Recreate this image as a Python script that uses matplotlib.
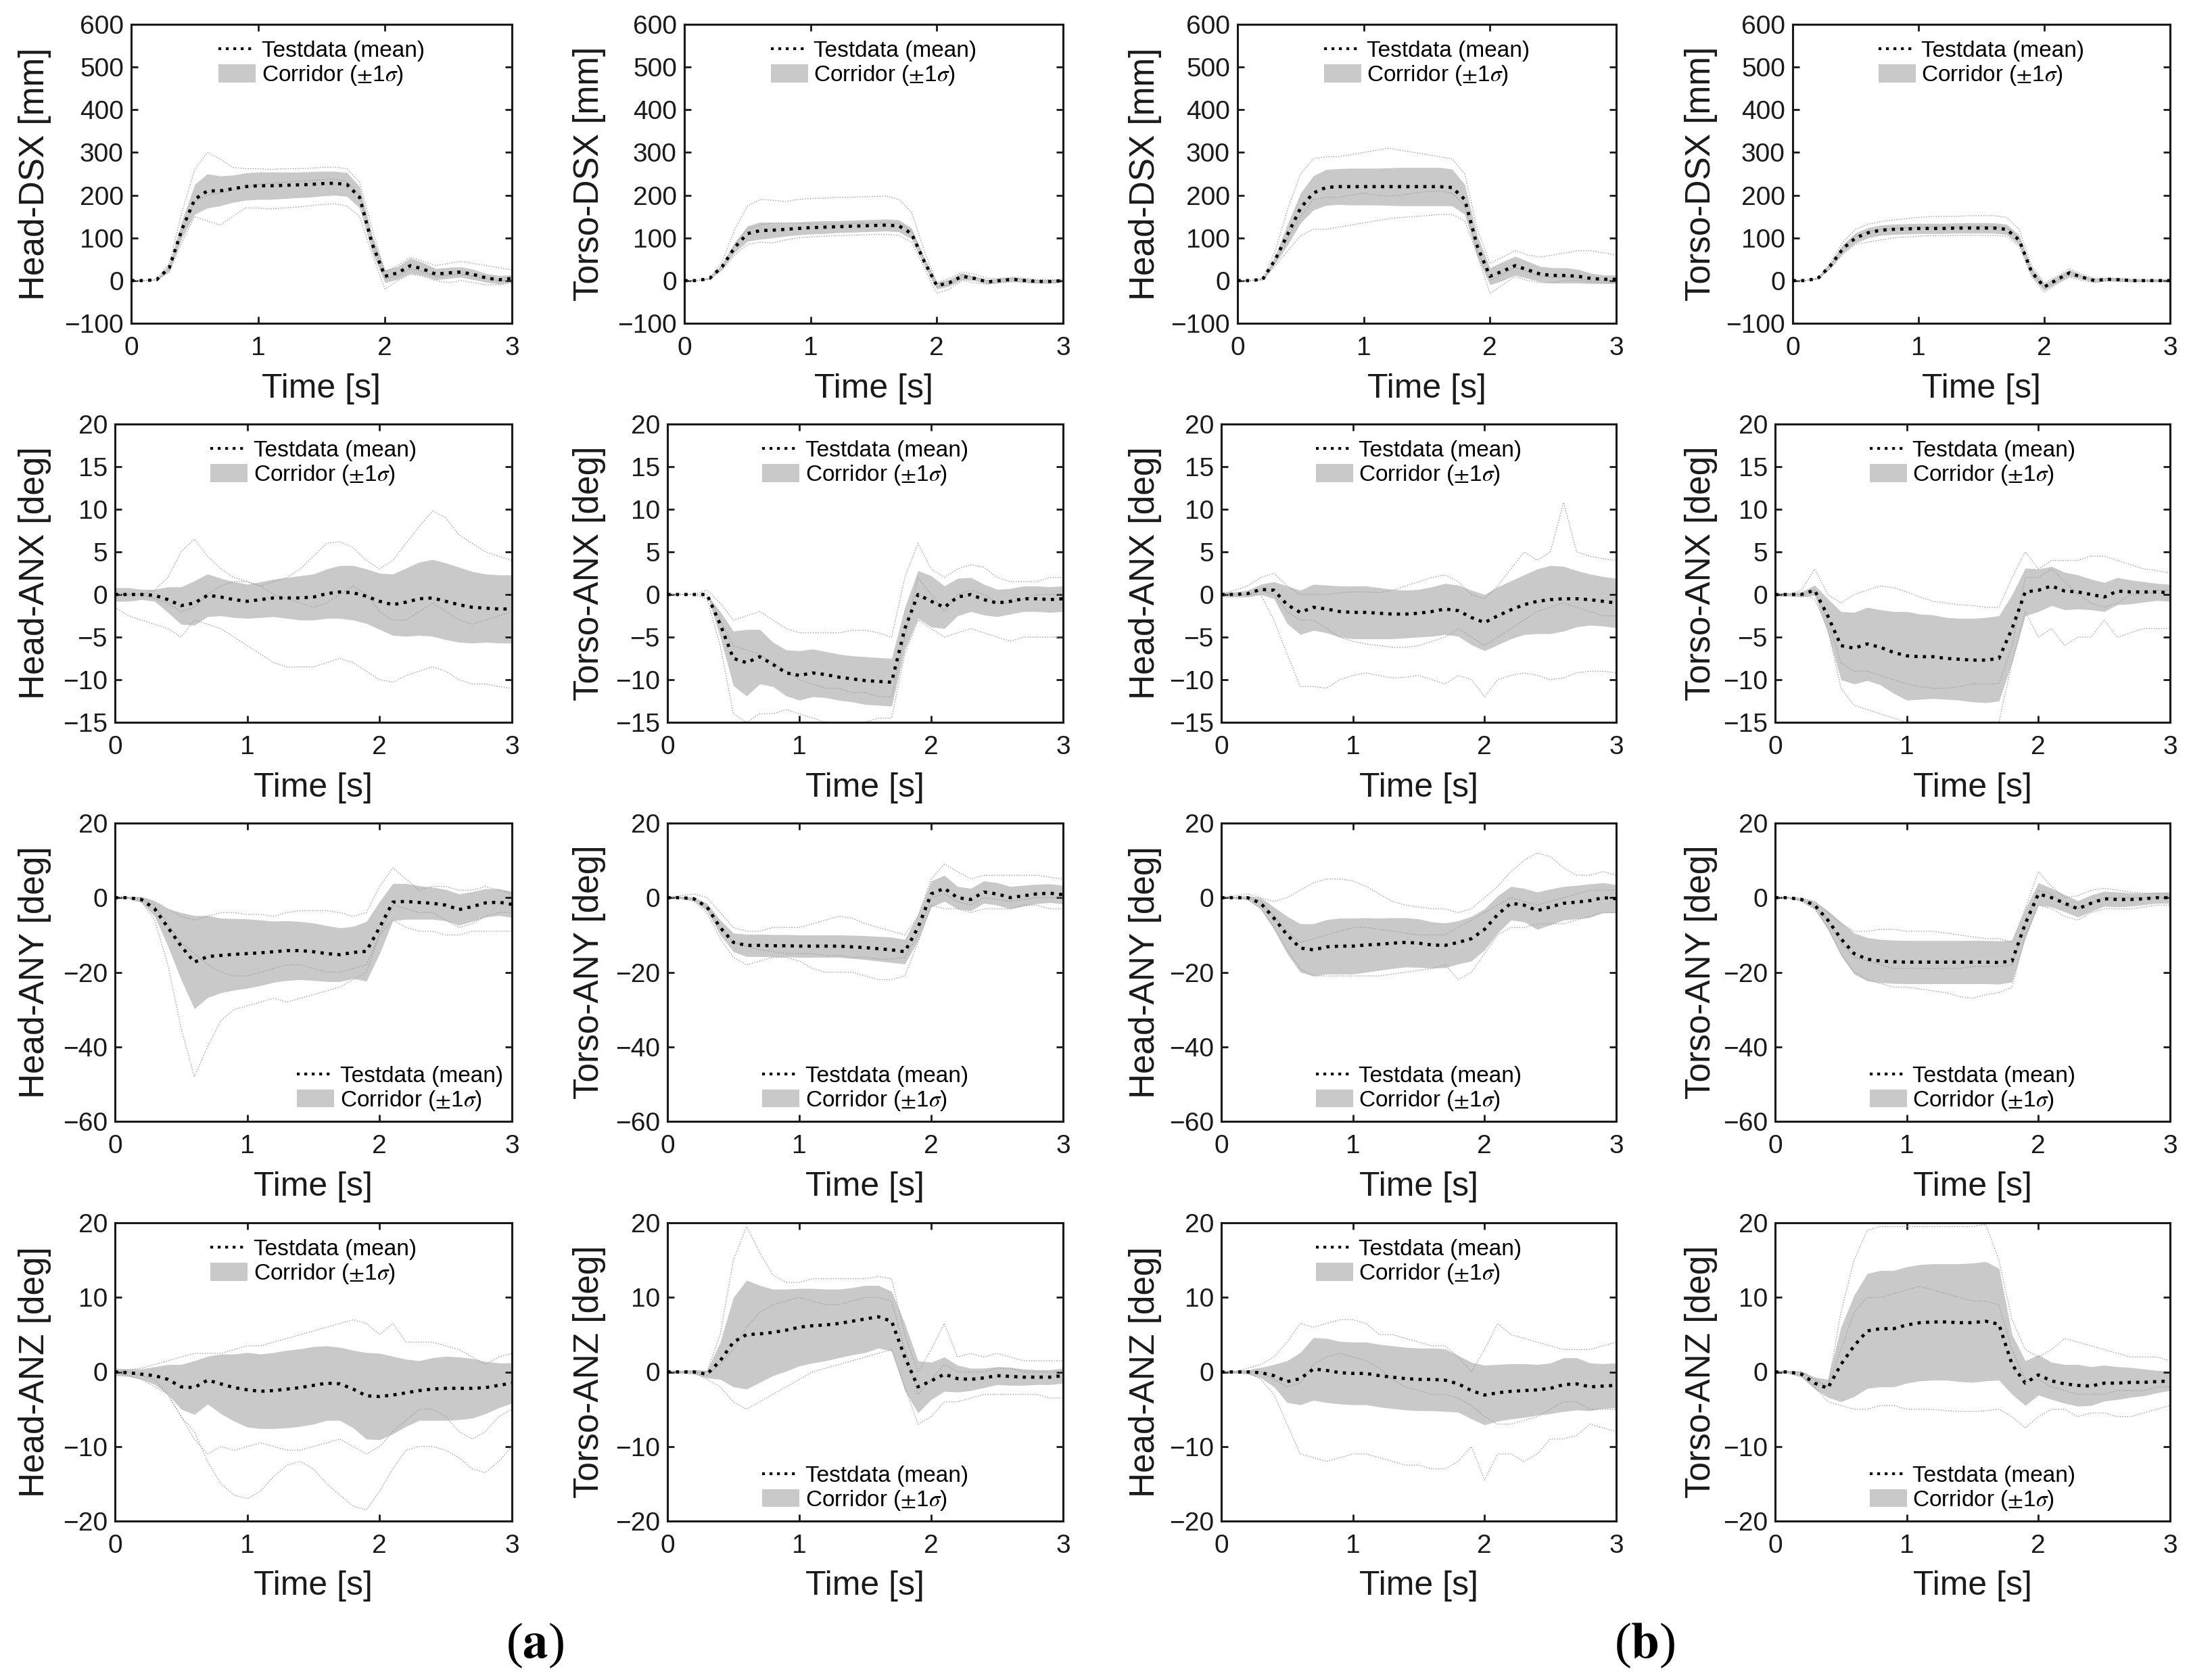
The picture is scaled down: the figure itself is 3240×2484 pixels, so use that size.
import matplotlib
matplotlib.use('Agg')
import matplotlib.pyplot as plt
from matplotlib.patches import Patch
from matplotlib.lines import Line2D

plt.rcParams['font.family'] = ['Liberation Sans', 'DejaVu Sans']
plt.rcParams['mathtext.fontset'] = 'stix'

# ---------------- data ----------------
time_s = [0.0, 0.1, 0.2, 0.3, 0.4, 0.5, 0.6, 0.7, 0.8, 0.9, 1.0, 1.1, 1.2, 1.3, 1.4, 1.5,
          1.6, 1.7, 1.8, 1.9, 2.0, 2.1, 2.2, 2.3, 2.4, 2.5, 2.6, 2.7, 2.8, 2.9, 3.0]

# Row 1: DSX [mm]
head_dsx_a_mean = [0,0,2,30,120,190,210,210,215,220,222,222,223,224,225,227,228,225,195,85,10,18,35,27,15,18,20,14,6,2,5]
head_dsx_a_sd = [0,0,1,8,20,35,40,35,32,32,32,32,31,30,30,29,28,28,25,20,15,15,18,15,13,13,12,12,10,10,8]
head_dsx_a_tests = [
    [0,0,3,40,160,260,300,285,265,262,262,260,262,262,263,265,266,262,230,120,20,35,55,45,35,40,45,40,35,30,25],
    [0,0,1,20,90,150,140,130,150,170,170,168,170,172,175,178,180,175,150,60,-20,0,15,10,0,-5,0,-5,-10,-10,-5],
    [0,0,2,28,115,185,200,205,212,218,225,228,230,232,234,236,238,232,200,95,5,10,28,20,10,12,15,10,5,0,0]]

torso_dsx_a_mean = [0,0,5,33,78,110,117,118,120,122,124,125,126,127,128,129,130,128,110,45,-12,-5,10,5,-3,0,3,0,-2,-2,0]
torso_dsx_a_sd = [0,0,2,6,12,18,20,18,16,15,15,15,14,14,14,14,14,14,13,10,8,8,8,5,5,5,5,4,4,4,4]
torso_dsx_a_tests = [
    [0,0,6,45,120,175,190,188,185,190,192,193,195,195,196,197,198,190,160,70,-5,5,20,15,5,5,8,5,3,2,2],
    [0,0,3,25,60,85,90,88,95,100,102,104,105,106,107,108,108,106,90,30,-30,-20,0,-5,-8,-5,-3,-5,-6,-6,-4],
    [0,0,5,35,85,120,130,135,135,135,133,132,132,133,134,135,136,134,115,50,-15,-10,15,8,0,3,5,2,0,-1,1]]

head_dsx_b_mean = [0,0,3,50,110,170,205,218,220,220,220,220,220,220,220,220,220,218,190,80,10,22,35,25,15,12,12,10,5,3,3]
head_dsx_b_sd = [0,0,2,10,25,35,40,42,42,43,43,43,44,45,45,45,45,43,35,25,20,22,22,20,18,18,18,16,12,10,10]
head_dsx_b_tests = [
    [0,0,5,70,170,250,285,290,290,295,300,305,310,305,300,295,290,285,250,120,40,55,70,60,55,60,65,70,70,65,60],
    [0,0,2,35,70,105,120,120,125,130,135,140,145,148,150,152,155,155,140,60,-30,-10,10,0,-5,-5,0,0,-3,-5,-5],
    [0,0,3,45,100,150,190,195,195,200,205,200,198,200,205,208,210,205,175,70,0,15,30,20,10,8,8,5,0,0,0]]

torso_dsx_b_mean = [0,0,5,35,75,100,112,118,120,121,122,122,122,123,123,123,123,120,95,20,-15,2,18,8,0,3,2,0,0,0,0]
torso_dsx_b_sd = [0,0,2,6,10,12,12,12,12,12,12,12,12,12,12,12,12,12,12,10,8,8,8,5,4,4,4,3,3,3,3]
torso_dsx_b_tests = [
    [0,0,6,42,90,120,132,138,142,145,148,150,150,150,152,152,152,148,120,35,-5,10,28,15,5,6,5,3,2,2,2],
    [0,0,4,28,62,85,90,95,100,102,104,105,105,106,106,106,106,104,80,10,-28,-8,8,0,-5,0,-2,-3,-2,-2,-2],
    [0,0,5,36,78,103,115,120,122,124,125,126,126,126,127,127,127,124,98,22,-18,0,20,10,2,4,3,1,0,0,0]]

# Row 2: ANX [deg]
head_anx_a_mean = [0,0,0,-0.1,-0.6,-1.3,-1.0,-0.1,-0.3,-0.6,-0.8,-0.6,-0.4,-0.4,-0.4,-0.3,0.1,0.3,0.2,-0.2,-0.8,-1.2,-0.9,-0.5,-0.4,-0.8,-1.2,-1.5,-1.6,-1.7,-1.7]
head_anx_a_sd = [0.8,0.8,0.6,0.7,1.5,2.2,2.6,2.5,2.2,2.1,2.0,2.1,2.2,2.4,2.6,2.7,2.9,3.1,3.2,3.2,3.3,3.6,4.0,4.3,4.5,4.5,4.4,4.2,4.0,4.0,4.0]
head_anx_a_tests = [
    [0,0,0,0.5,2,5,6.5,4.5,3,2,1.5,1,1.5,2,3,4.5,6,6.2,5.5,4,3,4,6,8,9.8,9,7,6,5,4.5,4],
    [-1.5,-2.5,-3,-3.5,-4,-5,-3,-3.5,-4,-5,-6,-7,-8,-8.5,-8.5,-8.5,-8,-7.5,-8,-9,-10,-10.3,-9.5,-9,-8.5,-9,-10,-10.5,-10.5,-10.8,-11],
    [0,0,0,-0.5,-1,-2,-1.5,0,1,1.5,1.5,1,0,-0.5,-1,-1.5,-1,0,1,0,-2,-3,-3,-2,-1,-2,-3,-3.5,-3,-2.5,-2]]

torso_anx_a_mean = [0,0,0,0,-3.5,-7.5,-8,-7.3,-8.2,-9.2,-9.5,-9.2,-9.4,-9.7,-9.9,-10.1,-10.2,-10.3,-4,0,-0.8,-1.5,-0.3,0,-0.6,-1,-0.8,-0.5,-0.5,-0.6,-0.5]
torso_anx_a_sd = [0,0,0,0,1.5,3.2,3.9,3.2,2.6,2.7,2.9,2.8,2.7,2.7,2.7,2.8,2.8,2.8,2.5,2.8,3,2.5,2.2,2.0,1.8,1.6,1.5,1.5,1.5,1.5,1.5]
torso_anx_a_tests = [
    [0,0,0,0.5,-1,-3,-2.5,-2,-3,-4,-4.5,-4.5,-4.5,-4.5,-4.2,-4.2,-4.5,-5,2,6,3,2,3,3.5,3.2,2,1.5,1.5,1.5,2,2],
    [0,0,0,-0.5,-6,-14,-15,-14,-14,-13.5,-14,-14.5,-15,-15,-15,-15,-14.5,-14.5,-7,-3,-4,-5,-4.5,-4,-4.5,-5,-5.5,-5,-5,-5,-5],
    [0,0,0,0,-3,-6,-6.5,-7,-8,-9,-10,-10.5,-11,-11,-11.5,-11.5,-12,-12,-5,2,0,-2,0,0.5,0,-1,-1,-0.5,0,0,0]]

head_anx_b_mean = [0,0,0.1,0.6,0.5,-1.2,-2.1,-1.5,-1.7,-2.0,-2.1,-2.1,-2.2,-2.3,-2.3,-2.2,-2.0,-1.7,-1.9,-2.7,-3.3,-2.5,-1.8,-1.2,-0.8,-0.6,-0.5,-0.5,-0.6,-0.8,-1.0]
head_anx_b_sd = [0.3,0.3,0.4,0.6,1,2.2,2.6,2.7,2.8,3,3.1,3.1,3,2.9,2.8,2.8,2.9,3,3,3.2,3.3,3.4,3.4,3.5,3.8,4,3.8,3.3,3,2.9,2.9]
head_anx_b_tests = [
    [0,0.5,1,2,2.5,1,0,0,0,0.2,0.3,0.3,0.2,0.5,1,1.5,2,2.3,1.5,0,-0.5,1,3,5,4,5,10.8,5,4.5,4.2,4],
    [0,0,0,0,-3,-7,-10.8,-10.8,-11,-10,-9.5,-9.2,-9.5,-9.8,-9.7,-9.5,-10,-10.5,-9.5,-10,-12,-10,-9.5,-9.2,-9.5,-10,-9.8,-9.2,-9,-9,-9.2],
    [0,0,0,0.5,0,-2,-3,-3,-4,-5,-5.5,-5.8,-6,-6.2,-6.2,-6,-5.5,-5,-4,-5,-6,-5,-4,-3,-2,-1.5,-1,-1.5,-2,-2.5,-2.5]]

torso_anx_b_mean = [0,0,0,0.5,-2.5,-6,-6.3,-5.8,-6.2,-6.8,-7.2,-7.3,-7.3,-7.5,-7.6,-7.7,-7.7,-7.5,-4,0.3,0.5,1,0.4,0.3,0,-0.3,0.4,0.3,0.3,0.3,0.2]
torso_anx_b_sd = [0.2,0.2,0.3,0.6,2,4,4.2,4.3,4.4,4.8,5.2,5.0,4.9,4.8,4.8,4.9,5.0,5.0,4,2.8,2.5,2.3,2.2,2,1.8,1.7,1.6,1.4,1.2,1.0,1.0]
torso_anx_b_tests = [
    [0,0,0.5,3,0,-1,0,0.5,1,0.8,0.3,-0.3,-0.8,-1,-1.2,-1.3,-1.5,-1.5,2,5,3,4,4,4,4.5,4.5,4,3.5,3,2.8,2.5],
    [0,0,0,-0.5,-4,-11,-13,-13.5,-14,-14.5,-15,-15,-15,-15,-15,-15,-15,-15,-8,-2,-5,-4,-6,-5,-5,-3,-5,-4.5,-4,-4,-4],
    [0,0,0,0.5,-3,-8,-9,-9,-9.5,-10,-10.5,-10.8,-11,-11,-10.8,-10.5,-10.5,-10.5,-6,2,2,3,1.5,0,-1,-1.5,-1,0,0,0.5,0.5]]

# Row 3: ANY [deg]
head_any_a_mean = [0,0,-0.5,-3,-8,-13,-17.3,-15.8,-15.5,-15.2,-15,-14.8,-14.5,-14.2,-14.2,-14.5,-15,-15.3,-14.7,-14.4,-8,-1.2,-1,-1.3,-1.5,-2,-3.2,-2.4,-1.4,-1.2,-1.8]
head_any_a_sd = [0.3,0.3,0.8,2,5,9,12.5,11,10,9.6,9.3,8.8,8.2,8,7.8,7.7,7.5,7.2,7,8,7,5,4.8,4.5,4.3,4.2,4.2,4,3.8,3.6,3.5]
head_any_a_tests = [
    [0,0,-1,-6,-18,-35,-48,-40,-33,-30,-29,-28,-27,-28,-27,-26,-25,-24,-22,-20,-10,-6,-8,-9,-9,-10,-10,-9,-9,-9,-9],
    [0,0,0,-1,-3,-5,-6,-5,-4,-4,-4.5,-4.5,-5,-4,-3.5,-3.5,-3.5,-4,-5,-4,3,8,5,2,3,3,2,2,3,2,1],
    [0,0,-0.5,-2,-7,-12,-15,-18,-20,-21,-21,-20,-19,-18,-18,-19,-20,-20,-19,-18,-10,-2,-3,-4,-4,-6,-8,-7,-5,-4,-4]]

torso_any_a_mean = [0,0,-0.3,-2.5,-8,-12,-12.8,-12.8,-12.9,-12.9,-13,-13,-13,-13,-13.2,-13.4,-13.7,-14,-14.5,-8,1,2.5,0,-0.5,1.5,1,0,0.5,1,1.2,0.8]
torso_any_a_sd = [0.3,0.3,0.5,1,2,2.5,3,3,3,3,3,3,3,3,3.1,3.2,3.3,3.4,3.3,3.5,3.5,3.5,3,3,3,3,3,2.8,2.6,2.5,2.5]
torso_any_a_tests = [
    [0,0.5,1,0,-4,-8,-9,-9,-8,-8,-8,-7,-6,-5,-5.5,-7,-8,-9,-10,-5,5,9,7,5,6,6,6,6,6,5.5,5],
    [0,0,-1,-4,-11,-16,-18,-17,-16,-16,-17,-19,-20,-20,-20,-21,-22,-22,-21,-12,-2,-3,-3,-4,-3,-3,-3,-2,-2,-3,-3],
    [0,0,-0.3,-2.5,-8,-12,-13,-14,-14.5,-15,-15,-15,-15.5,-15.5,-16,-16,-16.5,-16.5,-16,-10,0,1,-1,-2,0,-0.5,-1,-0.5,0,0,0]]

head_any_b_mean = [0,0,0,-1.5,-5.5,-10,-13.5,-14,-13.2,-13,-13,-12.7,-12.5,-12.2,-12,-12.2,-12.7,-12.8,-12,-11,-8.5,-4.5,-1.5,-2,-3.5,-2.5,-1.5,-1.2,-0.8,0,-0.3]
head_any_b_sd = [0.3,0.3,0.5,1.5,3,5,6.5,7,7.3,7.5,7.5,7.3,7,6.8,6.6,6.5,6.2,6,5.8,6,5.5,5,4.5,4.5,5,4.8,4.5,4.5,4.5,4,3.8]
head_any_b_tests = [
    [0,0.5,1,0,-1,0,2,4,5,5,4.5,3,1,-1,-2,-2.5,-3,-3,-4,-3,0,3,7,10,12,11,8,6,6,7,6],
    [0,0,-0.5,-3,-8,-14,-19,-21,-21,-21,-21,-21,-21,-20.5,-20,-19.5,-19,-18,-22,-20,-15,-10,-8,-8,-7,-7,-7,-6,-5,-4,-4],
    [0,0,0,-1,-5,-9,-12,-11,-10,-9,-8,-8,-8.5,-9,-9.5,-10,-10,-10,-8,-6,-4,-2,0,-1,-2,-1,0,1,2,2,2]]

torso_any_b_mean = [0,0,-0.5,-2,-6,-11,-15,-16.5,-17,-17.2,-17.3,-17.3,-17.3,-17.3,-17.3,-17.3,-17.3,-17.4,-17,-7,1,0,-1.5,-3,-1.5,-0.3,-0.5,-0.5,-0.3,0,0]
torso_any_b_sd = [0.2,0.2,0.4,1,2.5,4.5,5.5,5.8,5.8,5.8,5.8,5.8,5.8,5.8,5.8,5.8,5.8,5.8,5.6,4,3,2.5,2.3,2.2,2.2,2,2,1.8,1.6,1.5,1.5]
torso_any_b_tests = [
    [0,0,0,-1,-4,-7,-9,-9,-8.5,-8.5,-9,-9,-9,-9.5,-10,-10.5,-11,-11,-12,-3,7,3,0,0.5,2,2.5,2,1.5,1.2,1,1],
    [0,0,-1,-3,-8,-15,-20,-22,-23,-24,-24,-24.5,-25,-25.5,-26.5,-27,-26,-25.5,-24,-10,-2,-3,-5,-6,-4,-3,-3,-3,-2.5,-2,-2],
    [0,0,-0.5,-2,-6,-12,-16,-17,-18,-19,-19,-19,-19,-19,-19,-18.5,-18.5,-18.5,-18,-7,2,1,-2,-3,-1.5,0,0,0,0,0,0]]

# Row 4: ANZ [deg]
head_anz_a_mean = [0,-0.1,-0.3,-0.5,-1,-2,-2.1,-1.1,-1.6,-2.1,-2.4,-2.6,-2.5,-2.3,-2.1,-1.8,-1.5,-1.6,-2.3,-3.2,-3.3,-3.1,-2.8,-2.5,-2.3,-2.2,-2.2,-2.2,-2.1,-1.8,-1.5]
head_anz_a_sd = [0.5,0.5,0.7,1.2,2,3,3.6,3.2,4,4.5,5,5,5.1,5.2,5.2,5.2,5,4.9,5.2,5.8,5.8,5.2,4.5,4,4.2,4.3,4.2,4,3.5,3,2.7]
head_anz_a_tests = [
    [0,-0.5,-1,-2,-3,-6,-8,-12,-15,-16.5,-17,-16,-14,-12.5,-12,-13,-15,-16.5,-18,-18.5,-16,-13,-10.5,-10,-10,-10.5,-11.5,-13,-13.5,-12,-10],
    [0,0.3,0.5,1,1.5,2,2.5,2.5,2.5,3,3.5,3.5,4,4.5,5,5.5,6,6.5,7,6.5,5,6.5,4,4,4,3.5,3,2,1,2,2.5],
    [0,0,-0.5,-1,-3,-6,-9,-11,-10,-10.5,-10,-9.5,-10,-10.5,-10.5,-10,-9.5,-9,-10,-11,-10,-8,-6.5,-5,-5,-6,-8,-9,-8,-6,-5]]

torso_anz_a_mean = [0,0,0,-0.3,1.5,4,5,5.1,5.3,5.6,6,6.2,6.3,6.5,6.8,7.1,7.4,6.8,2,-2,-1.2,-0.3,-0.9,-1,-0.8,-0.5,-0.6,-0.7,-0.7,-0.7,-0.5]
torso_anz_a_sd = [0.2,0.2,0.3,0.5,2.5,6,7.3,6.5,5.8,5.5,5.2,5,4.8,4.6,4.5,4.5,4.2,4,4.5,3.5,2.5,2.3,1.8,1.5,1.3,1.2,1.2,1.1,1,1,1]
torso_anz_a_tests = [
    [0,0,0,0,5,15,19.5,16,13,12,12,12.5,12.5,12.5,12.5,12.5,12.8,12.5,5,0,3,6.5,2,2.5,2,2.5,2,1.5,1.5,1.5,1.5],
    [0,0,0,-1,-2,-4,-5,-4,-3,-2,-1,0,0.5,1,1.5,2,2.5,3,-2,-7,-6,-4,-4,-3.5,-3,-3,-3,-3,-3,-3.5,-3.5],
    [0,0,0,-0.5,1,3,6,8,9,9.5,10,9.5,9,9,9.5,10,10,9.5,3,-3,-1,1,0,0,0,0.5,0.5,0,0,0,0]]

head_anz_b_mean = [0,0,0,-0.1,-0.5,-1.3,-0.9,0.4,0.2,-0.1,-0.2,-0.2,-0.5,-0.7,-0.9,-1,-1,-1.1,-1.6,-2.5,-3.1,-2.8,-2.6,-2.5,-2.4,-2.2,-1.7,-1.6,-2,-1.9,-1.8]
head_anz_b_sd = [0.2,0.2,0.3,0.7,1.5,2.8,3.5,4.2,4.3,4.2,4.2,4.2,4.2,4.2,4.2,4.2,4.2,4.2,3.8,3.8,4,3.8,3.7,3.6,3.4,3.4,3.6,3.5,3.2,3,3]
head_anz_b_tests = [
    [0,0,0.5,1,2,4,6.5,6,6.5,7,7,6.5,5,5,4.5,4,3.5,3.5,2,0,3,6.5,5,4.5,4,3.5,3,3,3,3.5,4],
    [0,0,0,-1,-3,-7,-11,-11.5,-12,-11.5,-11,-11,-11.5,-12,-12.5,-12.5,-13,-13,-12,-10,-14.5,-11,-11,-12,-11,-9,-9,-8.5,-7,-7.5,-8],
    [0,0,0,0,-1,-2,-1.5,1,2,2.5,2,1.5,0.5,-1,-2,-2.5,-3,-3,-3.5,-4.5,-6,-7,-7,-6.5,-6,-5,-4,-4,-5,-5,-5]]

torso_anz_b_mean = [0,0,-0.3,-1.5,-2.2,1,3.5,5.5,5.8,5.8,6.3,6.6,6.7,6.7,6.6,6.6,6.8,6.4,1,-1.5,-0.4,-1.2,-1.6,-1.8,-1.9,-1.5,-1.5,-1.4,-1.4,-1.3,-1.2]
torso_anz_b_sd = [0.2,0.2,0.4,0.8,1.2,5,6.8,7.7,7.8,7.8,7.8,7.8,7.8,7.8,7.9,8,8,7.5,4,3,2.7,2.5,2.6,2.8,2.6,2.4,2.2,2,1.8,1.5,1.3]
torso_anz_b_tests = [
    [0,0,0,-1,-2,8,15,19,19.5,19.5,19.5,19.5,19.5,19.5,19.5,19.5,19.8,15,7,3,2,3,4.5,4,3.5,3,2.5,2,2,2,1.5],
    [0,0,-0.5,-2,-4,-4.5,-5,-5,-4.5,-4.5,-5,-5,-5,-5.2,-5.3,-5.3,-5.2,-5,-6,-7.5,-6,-5,-5,-6,-5.5,-5.5,-6,-6,-5.5,-5,-4.5],
    [0,0,0,-1,-2,3,8,10,10,10.5,11,11.5,11,10.5,10,9.5,9.5,9,3,-1,-1,-2,-2.5,-3,-3,-3,-2.5,-2.5,-2.5,-2,-2]]

row_ylabels = [["Head-DSX [mm]", "Torso-DSX [mm]", "Head-DSX [mm]", "Torso-DSX [mm]"],
               ["Head-ANX [deg]", "Torso-ANX [deg]", "Head-ANX [deg]", "Torso-ANX [deg]"],
               ["Head-ANY [deg]", "Torso-ANY [deg]", "Head-ANY [deg]", "Torso-ANY [deg]"],
               ["Head-ANZ [deg]", "Torso-ANZ [deg]", "Head-ANZ [deg]", "Torso-ANZ [deg]"]]
row_ylims = [(-100, 600), (-15, 20), (-60, 20), (-20, 20)]
row_yticks = [[-100, 0, 100, 200, 300, 400, 500, 600],
              [-15, -10, -5, 0, 5, 10, 15, 20],
              [-60, -40, -20, 0, 20],
              [-20, -10, 0, 10, 20]]
x_ticks = [0, 1, 2, 3]
legend_labels = ["Testdata (mean)", r"Corridor ($\pm$1$\sigma$)"]
legend_locs = [["upper center"] * 4,
               ["upper center"] * 4,
               ["lower right", "lower center", "lower center", "lower center"],
               ["upper center", "lower center", "upper center", "lower center"]]

series = [
    [(head_dsx_a_mean, head_dsx_a_sd, head_dsx_a_tests), (torso_dsx_a_mean, torso_dsx_a_sd, torso_dsx_a_tests),
     (head_dsx_b_mean, head_dsx_b_sd, head_dsx_b_tests), (torso_dsx_b_mean, torso_dsx_b_sd, torso_dsx_b_tests)],
    [(head_anx_a_mean, head_anx_a_sd, head_anx_a_tests), (torso_anx_a_mean, torso_anx_a_sd, torso_anx_a_tests),
     (head_anx_b_mean, head_anx_b_sd, head_anx_b_tests), (torso_anx_b_mean, torso_anx_b_sd, torso_anx_b_tests)],
    [(head_any_a_mean, head_any_a_sd, head_any_a_tests), (torso_any_a_mean, torso_any_a_sd, torso_any_a_tests),
     (head_any_b_mean, head_any_b_sd, head_any_b_tests), (torso_any_b_mean, torso_any_b_sd, torso_any_b_tests)],
    [(head_anz_a_mean, head_anz_a_sd, head_anz_a_tests), (torso_anz_a_mean, torso_anz_a_sd, torso_anz_a_tests),
     (head_anz_b_mean, head_anz_b_sd, head_anz_b_tests), (torso_anz_b_mean, torso_anz_b_sd, torso_anz_b_tests)],
]

for r, row in enumerate(series):
    for c, (m, s, tr) in enumerate(row):
        for k, arr in enumerate([m, s] + list(tr)):
            if len(arr) != len(time_s):
                raise ValueError(f"length mismatch row {r} col {c} array {k}: {len(arr)}")

# ---------------- layout (pixels of the 3241x2484 canvas) ----------------
W, H = 3241, 2484
fig = plt.figure(figsize=(W / 100, H / 100), dpi=100)

lefts_row1 = [194, 1012, 1830, 2651]
lefts_other = [170, 987, 1806, 2625]
rights = [757, 1572, 2390, 3209]
tops = [36, 627, 1217, 1808]
bottoms = [478, 1068, 1658, 2249]
ylabel_x = [76, 896, 1718, 2540]

corridor_color = '#c9c9c9'
test_color = '#9c9c9c'
ink = '#1a1a1a'

for r in range(4):
    for c in range(4):
        L = lefts_row1[c] if r == 0 else lefts_other[c]
        R = rights[c]
        T = tops[r]
        B = bottoms[r]
        ax = fig.add_axes([L / W, 1 - B / H, (R - L) / W, (B - T) / H])
        mean, sd, tests = series[r][c]
        lo = [m - s for m, s in zip(mean, sd)]
        hi = [m + s for m, s in zip(mean, sd)]
        ax.fill_between(time_s, lo, hi, color=corridor_color, lw=0, zorder=1)
        for tr in tests:
            ax.plot(time_s, tr, color=test_color, lw=1.0, ls=':', zorder=2)
        ax.plot(time_s, mean, color='black', lw=3.4, ls=':', zorder=3)

        ax.set_xlim(0, 3)
        ax.set_ylim(*row_ylims[r])
        ax.set_xticks(x_ticks)
        ax.set_yticks(row_yticks[r])
        ax.tick_params(direction='in', top=True, right=True, length=7, width=2.0,
                       labelsize=28, colors=ink)
        ax.tick_params(axis='x', pad=14)
        ax.tick_params(axis='y', pad=8)
        for sp in ax.spines.values():
            sp.set_linewidth(2.2)
            sp.set_color(ink)
        ax.set_xlabel("Time [s]", fontsize=36, labelpad=13, color=ink)
        ax.set_ylabel(row_ylabels[r][c], fontsize=37, color=ink)
        ax.yaxis.set_label_coords(ylabel_x[c] / W, 1 - (T + B) / 2 / H, transform=fig.transFigure)

        handles = [Line2D([0], [0], color='black', lw=3.0, ls=':'),
                   Patch(facecolor=corridor_color, edgecolor='none')]
        loc = legend_locs[r][c]
        bap = 0.5 if loc.startswith('upper') else 0.2
        ax.legend(handles, legend_labels, loc=loc, frameon=False, fontsize=24,
                  handlelength=1.65, handleheight=0.85, handletextpad=0.25,
                  labelspacing=0.08, borderaxespad=bap, borderpad=0.2)

fig.text(791 / W, 1 - 2433 / H, r"($\mathbf{a}$)", fontsize=54, family='Liberation Serif',
         ha='center', va='center')
fig.text(2432 / W, 1 - 2433 / H, r"($\mathbf{b}$)", fontsize=54, family='Liberation Serif',
         ha='center', va='center')

fig.savefig('out.png', dpi=100, facecolor='white')
